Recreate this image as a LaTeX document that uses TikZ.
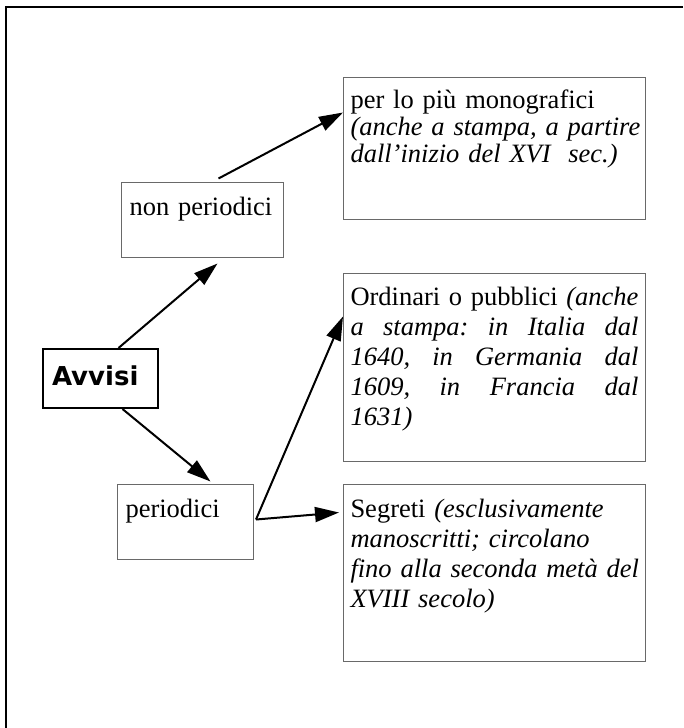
\documentclass[tikz,border=0pt]{standalone}
\usepackage{fontspec}
\setmainfont{Liberation Serif}
\newfontfamily\avvisifont{DejaVu Sans}
\usetikzlibrary{arrows.meta,calc}
\definecolor{bordo}{RGB}{105,105,105}
\frenchspacing
\hyphenpenalty=10000

\begin{document}
\begin{tikzpicture}[x=1pt,y=-1pt,
    box/.style={draw=bordo,line width=1pt,anchor=base west,inner xsep=7pt,inner ysep=0pt,align=left,font=\fontsize{26.5}{30}\selectfont},
    freccia/.style={line width=2pt,-{Triangle[length=24pt,width=15pt]}}]
\useasboundingbox (0,0) rectangle (683,728);
\draw[line width=2pt] (683,7) -- (6,7) -- (6,728);
\node[box,draw=black,line width=2pt,inner xsep=9pt,text width=97pt,text height=36pt,text depth=23pt,
    font=\avvisifont\bfseries\fontsize{26}{30}\selectfont] (avvisi) at (42,385) {Avvisi};
\node[box,inner xsep=8pt,text width=146pt,text height=33pt,text depth=42pt] (nonper) at (121,215) {non periodici};
\node[box,inner xsep=8pt,text width=120pt,text height=33pt,text depth=42pt] (periodici) at (117,517) {periodici};
\node[box,text width=288pt,text height=31pt,text depth=111pt,font=\fontsize{26.5}{27}\selectfont] (perlopiu) at (343,108)
    {\mbox{per lo più monografici}\\ \mbox{\itshape (anche a stampa, a partire}\\ \mbox{\itshape dall'inizio del XVI \ sec.)}};
\node[box,align=justify,text width=288pt,text height=32pt,text depth=156pt] (ordinari) at (343,305)
    {Ordinari o pubblici {\itshape (anche\linebreak a stampa: in Italia dal\linebreak 1640, in Germania dal\linebreak 1609, in Francia dal\linebreak 1631)}};
\node[box,text width=288pt,text height=33pt,text depth=144pt] (segreti) at (343,517)
    {\mbox{Segreti \itshape (esclusivamente}\\ \mbox{\itshape manoscritti; circolano}\\ \mbox{\itshape fino alla seconda metà del}\\ \mbox{\itshape XVIII secolo)}};
\coordinate (bivio) at ([xshift=2pt,yshift=2pt]periodici.east);
\draw[freccia] ([xshift=18pt]avvisi.north) -- ([xshift=15pt,yshift=-6pt]nonper.south);
\draw[freccia] ([xshift=22pt]avvisi.south) -- ([xshift=25pt,yshift=2pt]periodici.north);
\draw[freccia] ([xshift=16pt,yshift=3pt]nonper.north) -- ([yshift=-36pt]perlopiu.north west);
\draw[freccia] (bivio) -- ([yshift=-44pt]ordinari.north west);
\draw[freccia] (bivio) -- ([xshift=-4pt,yshift=-29pt]segreti.north west);
\end{tikzpicture}
\end{document}
